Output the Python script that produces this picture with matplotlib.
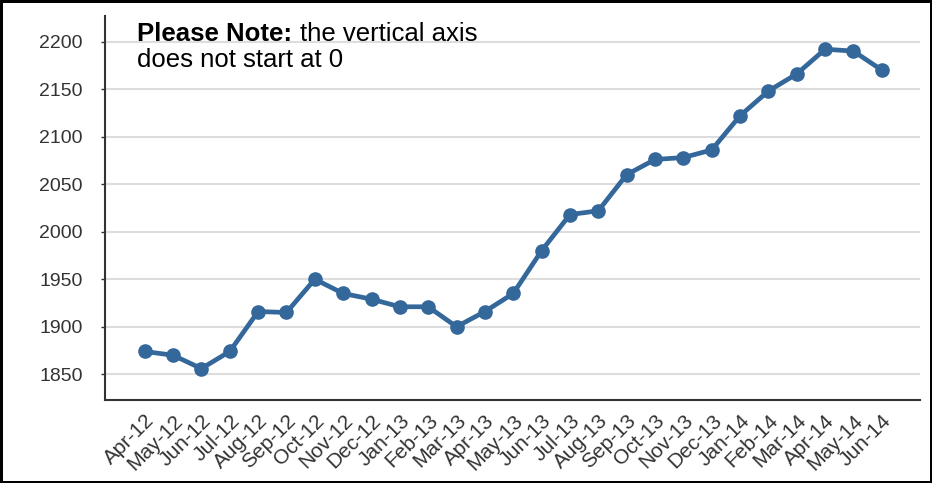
import matplotlib.pyplot as plt
import numpy as np

plt.rcParams['font.family'] = ['Liberation Sans', 'DejaVu Sans']

months = ['Apr-12', 'May-12', 'Jun-12', 'Jul-12', 'Aug-12', 'Sep-12', 'Oct-12',
          'Nov-12', 'Dec-12', 'Jan-13', 'Feb-13', 'Mar-13', 'Apr-13', 'May-13',
          'Jun-13', 'Jul-13', 'Aug-13', 'Sep-13', 'Oct-13', 'Nov-13', 'Dec-13',
          'Jan-14', 'Feb-14', 'Mar-14', 'Apr-14', 'May-14', 'Jun-14']
values = [1874, 1870, 1856, 1874, 1916, 1915, 1950,
          1935, 1929, 1921, 1921, 1900, 1916, 1935,
          1980, 2018, 2022, 2060, 2076, 2078, 2086,
          2122, 2148, 2166, 2192, 2190, 2170]
yticks = [1850, 1900, 1950, 2000, 2050, 2100, 2150, 2200]

fig = plt.figure(figsize = (9.32, 4.83), dpi = 100)
fig.patch.set_edgecolor('black')
fig.patch.set_linewidth(3.5)
ax = fig.add_axes([0.1127, 0.172, 0.8745, 0.795])

x = np.arange(len(months))
ax.plot(x, values, color = '#34679a', lw = 3.4, marker = 'o', ms = 9.5, zorder = 3)

# Axis setup
ax.set_ylim(1823, 2227)
ax.set_xlim(-1.4, len(months) - 1 + 1.35)
ax.set_yticks(yticks)
ax.set_xticks(x)
ax.set_xticklabels(months, rotation = 45, ha = 'right', va = 'top', rotation_mode = 'anchor')
ax.tick_params(axis = 'y', length = 3, width = 1, color = '#333333', labelsize = 14, labelcolor = '#333333', pad = 13)
ax.tick_params(axis = 'x', length = 0, labelsize = 15, labelcolor = '#333333', pad = 8)
ax.grid(axis = 'y', color = '#dddddd', lw = 1.5, zorder = 0)
ax.set_axisbelow(True)

for side in ['top', 'right']:
    ax.spines[side].set_visible(False)
for side in ['left', 'bottom']:
    ax.spines[side].set_color('#333333')
    ax.spines[side].set_linewidth(1.5)

# Note text: bold lead-in followed by regular text
fig.canvas.draw()
t1 = fig.text(137 / 932, 1 - 41 / 483, 'Please Note:', fontsize = 18.5, fontweight = 'bold',
              va = 'baseline', ha = 'left')
ext = t1.get_window_extent(fig.canvas.get_renderer())
fig.text((ext.x1 + 8) / 932, 1 - 41 / 483, 'the vertical axis', fontsize = 18.5,
         va = 'baseline', ha = 'left')
fig.text(137 / 932, 1 - 67 / 483, 'does not start at 0', fontsize = 18.5,
         va = 'baseline', ha = 'left')

fig.savefig('out.png', dpi = 100, edgecolor = fig.get_edgecolor())
